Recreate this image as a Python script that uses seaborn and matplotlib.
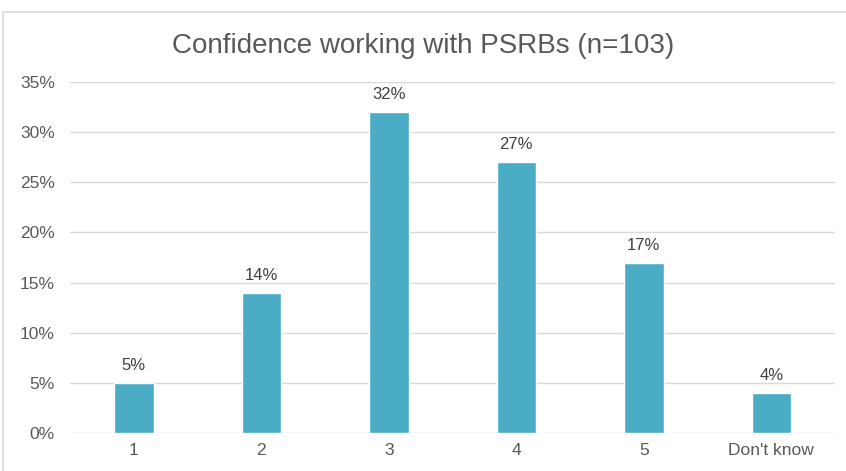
import matplotlib
matplotlib.use("Agg")
import matplotlib.pyplot as plt
import seaborn as sns
import pandas as pd
from matplotlib.patches import Rectangle
from matplotlib.ticker import PercentFormatter

# data
categories = ["1", "2", "3", "4", "5", "Don't know"]
shares = [5, 14, 32, 27, 17, 4]

df = pd.DataFrame({"rating": categories, "share": shares})

sns.set_theme(style="white")
plt.rcParams["font.family"] = ["Liberation Sans", "DejaVu Sans"]

fig = plt.figure(figsize=(8.46, 4.71), dpi=100)
ax = fig.add_axes([0.083, 0.0807, 0.904, 0.745])

# outer chart border
fig.patches.append(Rectangle((0.004, -0.01), 1.0, 0.985, transform=fig.transFigure,
                             fill=False, edgecolor="#d9d9d9", linewidth=1.2))

sns.barplot(data=df, x="rating", y="share", color="#4BACC6", width=0.31,
            saturation=1, ax=ax, zorder=3)

for i, v in enumerate(shares):
    ax.text(i, v + 1.0, f"{v}%", ha="center", va="bottom", fontsize=12, color="#404040")

ax.set_ylim(0, 35)
ax.set_xlim(-0.5, 5.5)
ax.set_yticks(range(0, 36, 5))
ax.yaxis.set_major_formatter(PercentFormatter(decimals=0))
ax.grid(axis="y", color="#d9d9d9", linewidth=1, zorder=0)
ax.set_axisbelow(True)
for s in ax.spines.values():
    s.set_visible(False)
ax.tick_params(axis="both", length=0, labelsize=12.5, labelcolor="#595959", pad=7)
ax.tick_params(axis="y", pad=11)
ax.set_xlabel("")
ax.set_ylabel("")

fig.text(0.5, 0.903, "Confidence working with PSRBs (n=103)", ha="center", va="center",
         fontsize=20, color="#595959")

fig.savefig("out.png", dpi=100)
